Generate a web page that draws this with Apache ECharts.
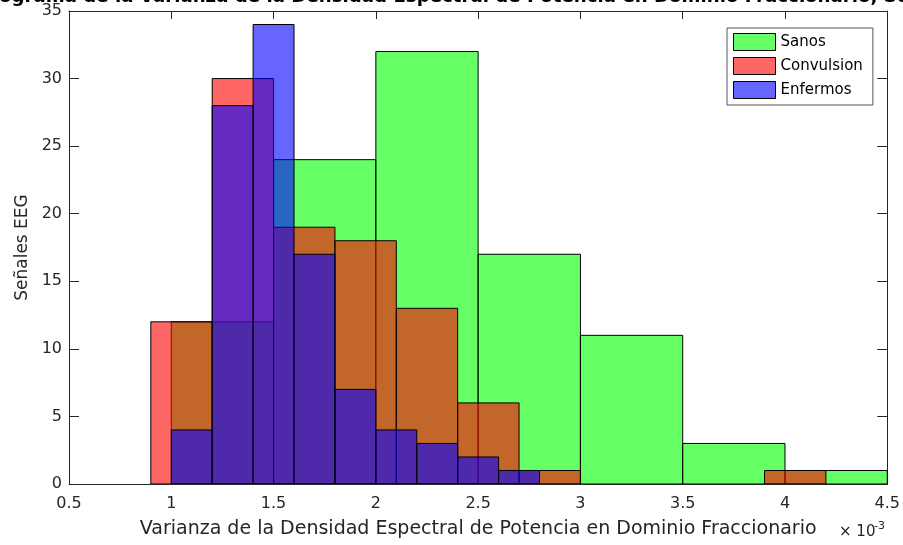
<!DOCTYPE html>
<html>
<head>
<meta charset="utf-8">
<script src="https://cdn.jsdelivr.net/npm/echarts@6/dist/echarts.min.js"></script>
<style>
html,body{margin:0;padding:0;background:#fff;}
#chart{width:903px;height:545px;}
</style>
</head>
<body>
<div id="chart"></div>
<script>
// ---- Data (bin edges and counts) ----
const seriesNames = ['Sanos', 'Convulsion', 'Enfermos'];

const sanosEdges  = [1.0, 1.5, 2.0, 2.5, 3.0, 3.5, 4.0, 4.5];
const sanosCounts = [12, 24, 32, 17, 11, 3, 1];

const convulsionEdges  = [0.9, 1.2, 1.5, 1.8, 2.1, 2.4, 2.7, 3.0, 3.3, 3.6, 3.9, 4.2];
const convulsionCounts = [12, 30, 19, 18, 13, 6, 1, 0, 0, 0, 1];

const enfermosEdges  = [1.0, 1.2, 1.4, 1.6, 1.8, 2.0, 2.2, 2.4, 2.6, 2.8];
const enfermosCounts = [4, 28, 34, 17, 7, 4, 3, 2, 1];

const xTicks = [0.5, 1, 1.5, 2, 2.5, 3, 3.5, 4, 4.5];
const yTicks = [0, 5, 10, 15, 20, 25, 30, 35];

const titleText = 'Histograma de la Varianza de la Densidad Espectral de Potencia en Dominio Fraccionario, Señales EEG';
const xLabel = 'Varianza de la Densidad Espectral de Potencia en Dominio Fraccionario';
const yLabel = 'Señales EEG';
const xExpBase = '× 10';
const xExp = '-3';

// ---- Build ----
function bins(edges, counts) {
  return counts.map((c, i) => [edges[i], edges[i + 1], c]);
}
const FONT = '"DejaVu Sans", "Liberation Sans", Arial, sans-serif';
const AX = '#262626';
const fills = ['rgba(0,255,0,0.6)', 'rgba(255,0,0,0.6)', 'rgba(0,0,255,0.6)'];
const legendFills = ['#66ff66', '#ff6666', '#6666ff'];

// title: clipped at the top of the canvas as in the reference; size / offset from text metrics
const cnv = document.createElement('canvas').getContext('2d');
cnv.font = 'bold 100px "DejaVu Sans"';
const visPart = 'ograma de la Varianza de la Densidad Espectral de Potencia en Dominio Fraccionario, ';
const titleSize = Math.round(100 * 884 / cnv.measureText(visPart).width * 10) / 10;
cnv.font = 'bold ' + titleSize + 'px "DejaVu Sans"';
const titleLeft = -cnv.measureText('Hist').width - 1;
const titleTop = 3.5 - 0.846 * titleSize;

function renderBar(color) {
  return function (params, api) {
    const x0 = api.value(0), x1 = api.value(1), c = api.value(2);
    if (!c) return null;
    const p0 = api.coord([x0, c]);
    const p1 = api.coord([x1, 0]);
    return {
      type: 'rect',
      shape: { x: p0[0], y: p0[1], width: p1[0] - p0[0], height: p1[1] - p0[1] },
      style: { fill: color, stroke: '#000', lineWidth: 1 }
    };
  };
}

const allData = [bins(sanosEdges, sanosCounts), bins(convulsionEdges, convulsionCounts), bins(enfermosEdges, enfermosCounts)];

const chart = echarts.init(document.getElementById('chart'), null, { renderer: 'canvas' });

const xMin = xTicks[0], xMax = xTicks[xTicks.length - 1];
const yMin = yTicks[0], yMax = yTicks[yTicks.length - 1];

const option = {
  backgroundColor: '#fff',
  animation: false,
  textStyle: { fontFamily: FONT },
  title: {
    text: titleText,
    left: titleLeft,
    top: titleTop,
    padding: 0,
    textStyle: { fontFamily: FONT, fontSize: titleSize, fontWeight: 'bold', color: '#000', lineHeight: titleSize }
  },
  grid: { left: 69, right: 15, top: 11, bottom: 61, containLabel: false },
  legend: {
    orient: 'vertical',
    left: 727,
    top: 28,
    padding: [5, 10, 6, 6],
    itemWidth: 42,
    itemHeight: 17,
    itemGap: 6,
    borderColor: '#555',
    borderWidth: 1,
    backgroundColor: '#fff',
    textStyle: { fontFamily: FONT, fontSize: 15, color: '#000' },
    data: seriesNames.map((n, i) => ({
      name: n, icon: 'rect',
      itemStyle: { color: legendFills[i], borderColor: '#000', borderWidth: 1 }
    }))
  },
  xAxis: [{
    type: 'value', min: xMin, max: xMax, interval: 0.5,
    name: xLabel, nameLocation: 'middle', nameGap: 35.5,
    nameTextStyle: { fontFamily: FONT, fontSize: 19, color: AX },
    axisLine: { show: true, onZero: false, lineStyle: { color: AX, width: 1 } },
    axisTick: { show: true, inside: true, length: 8, lineStyle: { color: AX } },
    axisLabel: { fontFamily: FONT, fontSize: 16, color: AX, margin: 12 },
    splitLine: { show: false }
  }, {
    type: 'value', min: xMin, max: xMax, interval: 0.5, position: 'top',
    axisLine: { show: true, onZero: false, lineStyle: { color: AX, width: 1 } },
    axisTick: { show: true, inside: true, length: 8, lineStyle: { color: AX } },
    axisLabel: { show: false }, splitLine: { show: false }
  }],
  yAxis: [{
    type: 'value', min: yMin, max: yMax, interval: 5,
    name: yLabel, nameLocation: 'middle', nameGap: 33,
    nameTextStyle: { fontFamily: FONT, fontSize: 17, color: AX },
    axisLine: { show: true, onZero: false, lineStyle: { color: AX, width: 1 } },
    axisTick: { show: true, inside: true, length: 10, lineStyle: { color: AX } },
    axisLabel: { fontFamily: FONT, fontSize: 16, color: AX, margin: 7 },
    splitLine: { show: false }
  }, {
    type: 'value', min: yMin, max: yMax, interval: 5, position: 'right',
    axisLine: { show: true, onZero: false, lineStyle: { color: AX, width: 1 } },
    axisTick: { show: true, inside: true, length: 10, lineStyle: { color: AX } },
    axisLabel: { show: false }, splitLine: { show: false }
  }],
  graphic: [{
    type: 'text', x: 839, y: 539.5,
    style: { text: xExpBase, fontFamily: FONT, fontSize: 15, fill: AX, textVerticalAlign: 'bottom', verticalAlign: 'bottom' }
  }, {
    type: 'text', x: 874, y: 532,
    style: { text: xExp, fontFamily: FONT, fontSize: 11, fill: AX, textVerticalAlign: 'bottom', verticalAlign: 'bottom' }
  }],
  series: seriesNames.map((n, i) => ({
    name: n,
    type: 'custom',
    xAxisIndex: 0, yAxisIndex: 0,
    clip: true,
    itemStyle: { color: legendFills[i], borderColor: '#000', borderWidth: 1 },
    renderItem: renderBar(fills[i]),
    encode: { x: [0, 1], y: 2 },
    data: allData[i],
    z: 2 + i
  }))
};

chart.setOption(option);
</script>
</body>
</html>
